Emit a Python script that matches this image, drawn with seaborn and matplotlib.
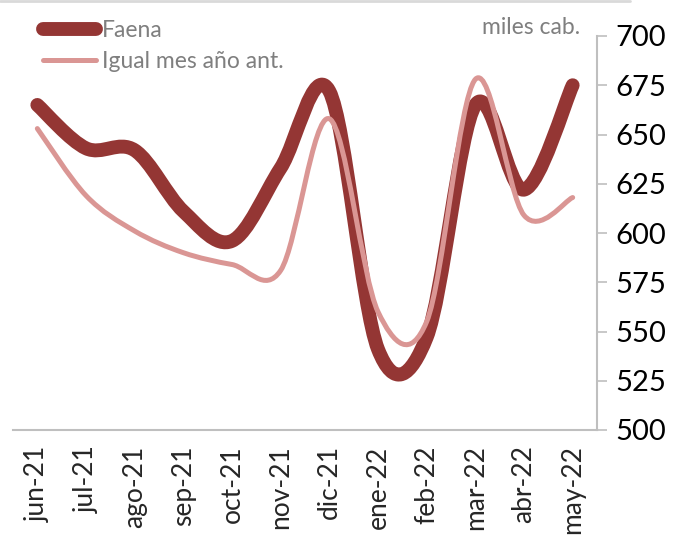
import numpy as np
import matplotlib
matplotlib.use("Agg")
import matplotlib.pyplot as plt
import seaborn as sns
from matplotlib.path import Path
from matplotlib.patches import PathPatch
from matplotlib.lines import Line2D

months = ["jun-21", "jul-21", "ago-21", "sep-21", "oct-21", "nov-21",
          "dic-21", "ene-22", "feb-22", "mar-22", "abr-22", "may-22"]
faena = [665, 643, 642, 611, 596, 633, 672, 541, 547, 665, 622, 675]
igual_ant = [653, 619, 601, 590, 584, 581, 658, 560, 555, 678, 609, 618]

sns.set_style("white")
plt.rcParams["font.family"] = ["Lato", "DejaVu Sans"]

dark = "#943634"
light = "#DA9694"
grid_c = "#BFBFBF"


def smooth_path(xs, ys):
    # excel style smoothed line: cubic bezier through every point
    pts = np.column_stack([xs, ys]).astype(float)
    n = len(pts)
    verts = [pts[0]]
    codes = [Path.MOVETO]
    for i in range(n - 1):
        p0 = pts[max(i - 1, 0)]
        p1 = pts[i]
        p2 = pts[i + 1]
        p3 = pts[min(i + 2, n - 1)]
        verts += [p1 + (p2 - p0) / 6, p2 - (p3 - p1) / 6, p2]
        codes += [Path.CURVE4] * 3
    return Path(verts, codes)


fig = plt.figure(figsize=(6.75, 5.35), dpi=100)
ax = fig.add_axes([13 / 675, 1 - 430 / 535, 584 / 675, 394 / 535])

x = np.arange(len(months))
ax.add_patch(PathPatch(smooth_path(x, faena), fill=False, color=dark, lw=10,
                       capstyle="round", joinstyle="round", zorder=3))
ax.add_patch(PathPatch(smooth_path(x, igual_ant), fill=False, color=light, lw=3.6,
                       capstyle="round", joinstyle="round", zorder=4))

ax.set_xlim(-0.5, len(months) - 0.5)
ax.set_ylim(500, 700)

ax.yaxis.tick_right()
ax.set_yticks(range(500, 701, 25))
ax.tick_params(axis="y", direction="out", length=7, width=1.2, color=grid_c,
               labelsize=21, labelcolor="black", pad=6, right=True, left=False)

ax.set_xticks(np.arange(-0.5, len(months), 1))
ax.set_xticklabels([])
ax.set_xticks(x, minor=True)
ax.set_xticklabels(months, minor=True, rotation=90, fontsize=19, va="top")
ax.tick_params(axis="x", which="major", direction="out", length=7, width=1.2,
               color=grid_c)
ax.tick_params(axis="x", which="minor", length=0, pad=11)

for s in ["left", "top"]:
    ax.spines[s].set_visible(False)
for s in ["right", "bottom"]:
    ax.spines[s].set_color(grid_c)
    ax.spines[s].set_linewidth(1.5)

handles = [Line2D([], [], color=dark, lw=10, solid_capstyle="round"),
           Line2D([], [], color=light, lw=3.6, solid_capstyle="round")]
leg = fig.legend(handles, ["Faena", "Igual mes año ant."], loc="upper left",
                 bbox_to_anchor=(34 / 675, 1 - 11 / 535), frameon=False,
                 fontsize=16.5, handlelength=2.3, handletextpad=0.25,
                 labelspacing=0.45, borderaxespad=0)
for t in leg.get_texts():
    t.set_color("#7F7F7F")

fig.text(580 / 675, 1 - 28 / 535, "miles cab.", ha="right", va="center",
         fontsize=16.5, color="#7F7F7F")

fig.add_artist(Line2D([0, 630 / 675], [1 - 1 / 535, 1 - 1 / 535],
                      color="#D9D9D9", lw=2))

fig.savefig("out.png", dpi=100)
